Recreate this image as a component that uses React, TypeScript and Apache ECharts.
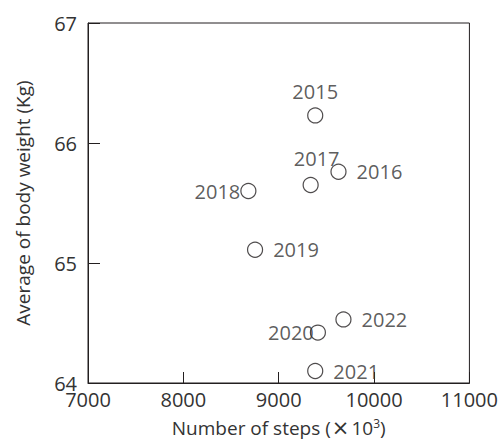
import React, { useEffect, useRef } from "react";
import * as echarts from "echarts";

const years = ["2015", "2016", "2017", "2018", "2019", "2020", "2021", "2022"];
const steps = [9383, 9627, 9335, 8682, 8752, 9411, 9383, 9679];
const weights = [66.23, 65.76, 65.65, 65.6, 65.11, 64.42, 64.1, 64.53];
const xTicks = [7000, 8000, 9000, 10000, 11000];
const yTicks = [64, 65, 66, 67];

const labelStyle: Record<string, any> = {
  "2015": { position: "top", distance: 6 },
  "2016": { position: "right", distance: 10 },
  "2017": { position: "top", distance: 8, offset: [6, 0] },
  "2018": { position: "left", distance: 0 },
  "2019": { position: "right", distance: 10 },
  "2020": { position: "left", distance: -4 },
  "2021": { position: "right", distance: 10 },
  "2022": { position: "right", distance: 10 },
};

const FONT = "'Open Sans', sans-serif";
const TXT = "#333";
const LINE = "#231f20";

export default function App() {
  const ref = useRef<HTMLDivElement>(null);
  useEffect(() => {
    if (!ref.current) return;
    const chart = echarts.init(ref.current, null, { renderer: "svg" });
    const data = years.map((y, i) => ({
      name: y,
      value: [steps[i], weights[i]],
      label: { show: true, formatter: y, ...labelStyle[y] },
    }));
    chart.setOption({
      animation: false,
      grid: {
        left: 88,
        top: 23,
        right: 29,
        bottom: 59,
        show: true,
        borderColor: LINE,
        borderWidth: 1,
        backgroundColor: "transparent",
      },
      xAxis: {
        type: "value",
        min: xTicks[0],
        max: xTicks[xTicks.length - 1],
        interval: 1000,
        name: "Number of steps ({x|×}10{sup|3})",
        nameLocation: "middle",
        nameGap: 34,
        nameTextStyle: {
          fontFamily: FONT,
          fontSize: 19,
          color: TXT,
          rich: {
            x: { fontFamily: "'DejaVu Sans', sans-serif", fontSize: 21, color: TXT, padding: [0, 2, 0, 1] },
            sup: { fontFamily: FONT, fontSize: 12, color: TXT, verticalAlign: "top", padding: [0, 0, 8, 0] },
          },
        },
        axisLine: { show: true, lineStyle: { color: LINE, width: 1 } },
        axisTick: { show: true, inside: true, length: 11, lineStyle: { color: LINE } },
        axisLabel: { fontFamily: FONT, fontSize: 20, color: TXT, margin: 6, formatter: (v: number) => String(v) },
        splitLine: { show: false },
      },
      yAxis: {
        type: "value",
        min: yTicks[0],
        max: yTicks[yTicks.length - 1],
        interval: 1,
        name: "Average of body weight (Kg)",
        nameLocation: "middle",
        nameGap: 56,
        nameTextStyle: { fontFamily: FONT, fontSize: 19, color: TXT },
        axisLine: { show: true, lineStyle: { color: LINE, width: 1 } },
        axisTick: { show: true, inside: true, length: 12, lineStyle: { color: LINE } },
        axisLabel: { fontFamily: FONT, fontSize: 20, color: TXT, margin: 11, formatter: (v: number) => String(v) },
        splitLine: { show: false },
      },
      series: [
        {
          type: "scatter",
          symbol: "circle",
          symbolSize: 15,
          itemStyle: { color: "#fff", borderColor: LINE, borderWidth: 1.2 },
          label: { fontFamily: FONT, fontSize: 20, color: TXT },
          data,
        },
      ],
    });
    return () => chart.dispose();
  }, []);
  return <div ref={ref} style={{ width: 501, height: 443, position: "absolute", left: 0, top: 0 }} />;
}
